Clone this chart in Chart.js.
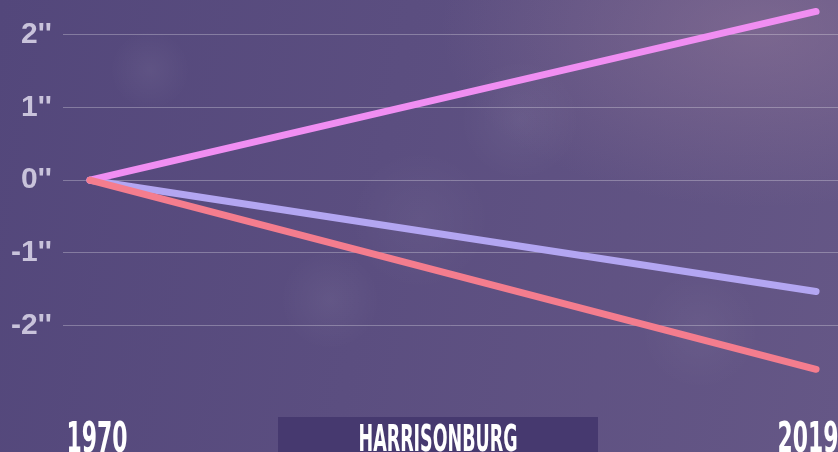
<!DOCTYPE html>
<html>
<head>
<meta charset="utf-8">
<script src="https://cdn.jsdelivr.net/npm/chart.js@4"></script>
<style>
html,body{margin:0;padding:0;}
body{width:838px;height:452px;overflow:hidden;
background:
radial-gradient(circle at 150px 70px, rgba(255,255,255,0.05) 0, rgba(255,255,255,0) 40px),
radial-gradient(circle at 330px 300px, rgba(255,255,255,0.05) 0, rgba(255,255,255,0) 50px),
radial-gradient(circle at 520px 120px, rgba(255,255,255,0.05) 0, rgba(255,255,255,0) 60px),
radial-gradient(circle at 700px 330px, rgba(255,255,255,0.04) 0, rgba(255,255,255,0) 60px),
radial-gradient(circle at 420px 220px, rgba(255,255,255,0.04) 0, rgba(255,255,255,0) 70px),
radial-gradient(ellipse at 760px 30px, rgba(160,130,160,0.4) 0, rgba(160,130,160,0) 320px),
linear-gradient(100deg,#53477b 0%,#5b4e80 45%,#655786 100%);}
#wrap{position:absolute;left:0;top:0;width:838px;height:452px;}
</style>
</head>
<body>
<div id="wrap"><canvas id="chart" width="838" height="452"></canvas></div>
<script>
// DATA
const years=[1970,2019];
const xTickLabels=["1970","2019"];
const yTicks=[-2,-1,0,1,2];
const pinkValues=[0,2.32];
const lavenderValues=[0,-1.53];
const salmonValues=[0,-2.6];
const cityName="HARRISONBURG";

function pts(vals){
return years.map((y,i)=>({x:y,y:vals[i]}));
}

// draws text squeezed to a given width
function squeeze(ctx,txt,x,y,w){
const m=ctx.measureText(txt).width;
ctx.save();
ctx.translate(x,y);
ctx.scale(w/m,1);
ctx.fillText(txt,0,0);
ctx.restore();
}

// BOTTOM LABELS + TITLE
const bottomText={
id:"bottomText",
afterDraw(chart){
const ctx=chart.ctx;
const xs=chart.scales.x;
ctx.save();
ctx.fillStyle="#ffffff";
ctx.textBaseline="alphabetic";
ctx.textAlign="center";
ctx.font='bold 42px "Liberation Sans Narrow","DejaVu Sans Condensed",sans-serif';
years.forEach((yr,i)=>{
let px=xs.getPixelForValue(yr);
px+= i===0 ? 7 : -8;
squeeze(ctx,xTickLabels[i],px,452,61);
});
// title box
ctx.fillStyle="#46396f";
ctx.fillRect(278,417,320,35);
ctx.fillStyle="#ffffff";
ctx.font='bold 37px "Liberation Sans Narrow","DejaVu Sans Condensed",sans-serif';
squeeze(ctx,cityName,438,451,159);
ctx.restore();
}
};

new Chart(document.getElementById("chart").getContext("2d"),{
type:"line",
data:{
datasets:[
{data:pts(salmonValues),borderColor:"#f47d8e"},
{data:pts(pinkValues),borderColor:"#f08ef2"},
{data:pts(lavenderValues),borderColor:"#b3a6f2"}
]
},
options:{
responsive:false,
animation:false,
layout:{padding:{top:2,bottom:50,left:0,right:0}},
elements:{
line:{borderWidth:7,borderCapStyle:"round",tension:0},
point:{radius:0}
},
plugins:{legend:{display:false},tooltip:{enabled:false}},
scales:{
x:{type:"linear",display:false,min:1968.18,max:2020.48},
y:{
min:-3.05,max:2.45,
afterBuildTicks(s){s.ticks=yTicks.map(v=>({value:v}));},
afterFit(s){s.width=63;s.paddingTop=0;s.paddingBottom=0;},
border:{display:false},
grid:{color:"rgba(255,255,255,0.28)",lineWidth:1,drawTicks:false},
ticks:{
padding:11,
color:"rgba(214,208,230,0.9)",
font:{family:'"Liberation Sans",Arial,sans-serif',size:30,weight:"bold"},
callback:v=>v+"''"
}
}
}
},
plugins:[bottomText]
});
</script>
</body>
</html>
